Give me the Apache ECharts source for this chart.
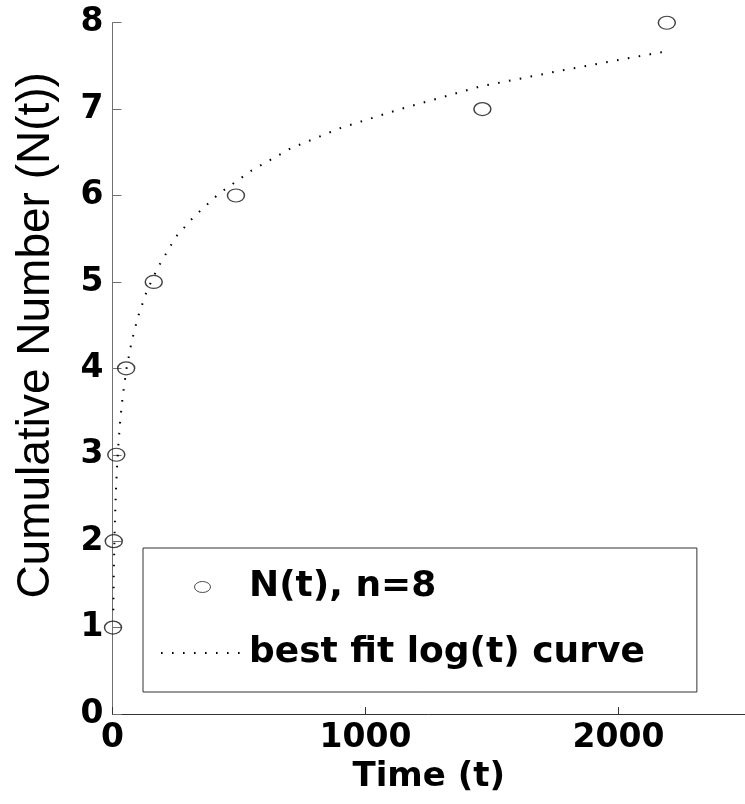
<!DOCTYPE html>
<html><head><meta charset="utf-8">
<script src="https://cdn.jsdelivr.net/npm/echarts@6/dist/echarts.min.js"></script>
<style>html,body{margin:0;padding:0;background:#fff}#c{width:745px;height:804px}</style>
</head><body><div id="c"></div>
<script>
// observed data: time of each event and cumulative number
const eventTimes = [2, 5, 15, 54, 163, 488, 1462, 2191];
const cumulativeCounts = [1, 2, 3, 4, 5, 6, 7, 8];
// best fit log(t) curve
const fitTimes  = [3.3, 4, 5, 6, 8, 10, 13, 17, 22, 30, 40, 55, 75, 100, 135, 180, 250, 320, 420, 550, 707, 900, 1126, 1450, 1780, 2191];
const fitValues = [1.2, 1.4, 1.6, 1.78, 2.06, 2.28, 2.54, 2.81, 3.07, 3.38, 3.67, 3.99, 4.3, 4.59, 4.89, 5.17, 5.52, 5.75, 6.02, 6.29, 6.55, 6.78, 6.99, 7.26, 7.45, 7.67];
const xTickValues = [0, 1000, 2000];
const yTickValues = [0, 1, 2, 3, 4, 5, 6, 7, 8];
const seriesNames = ['N(t), n=8', 'best fit log(t) curve'];

const chart = echarts.init(document.getElementById('c'), null, {renderer: 'canvas'});
const tickFont = {fontFamily: 'DejaVu Sans', fontWeight: 'bold', fontSize: 33, color: '#000'};
const fitLineStyle = {color: '#000', width: 2, type: [1.6, 9.4]};
chart.setOption({
  animation: false,
  backgroundColor: '#fff',
  grid: {left: 112.5, right: -5.5, top: 22.7, bottom: 90, containLabel: false},
  xAxis: {
    type: 'value', min: 0, max: 2500, interval: 1000,
    name: 'Time (t)', nameLocation: 'middle', nameGap: 44,
    nameTextStyle: {fontFamily: 'DejaVu Sans', fontWeight: 'bold', fontSize: 34, color: '#000'},
    axisLine: {show: true, lineStyle: {color: '#333', width: 1}},
    axisTick: {show: true, inside: true, length: 7, lineStyle: {color: '#333'}},
    axisLabel: Object.assign({margin: 8, showMaxLabel: false,
      formatter: v => xTickValues.includes(v) ? String(v) : ''}, tickFont),
    splitLine: {show: false}
  },
  yAxis: {
    type: 'value', min: 0, max: 8, interval: 1,
    name: 'Cumulative Number (N(t))', nameLocation: 'middle', nameGap: 53,
    nameTextStyle: {fontFamily: 'Liberation Sans', fontWeight: 'normal', fontSize: 46, color: '#000', padding: [0, 0, 0, 66]},
    axisLine: {show: true, lineStyle: {color: '#707070', width: 1}},
    axisTick: {show: true, inside: true, length: 9, lineStyle: {color: '#707070'}},
    axisLabel: Object.assign({margin: 9,
      formatter: v => yTickValues.includes(v) ? String(v) : ''}, tickFont),
    splitLine: {show: false}
  },
  legend: {
    orient: 'vertical', left: 143, top: 548,
    padding: [21, 52, 21, 17], itemGap: 30,
    itemWidth: 83, itemHeight: 11,
    backgroundColor: '#fff', borderColor: '#333', borderWidth: 1, borderRadius: 0,
    textStyle: {fontFamily: 'DejaVu Sans', fontWeight: 'bold', fontSize: 36, color: '#000'},
    selectedMode: false,
    data: [
      {name: seriesNames[0], icon: 'path://M16,5.5A8,5.5,0,1,1,0,5.5A8,5.5,0,1,1,16,5.5Z',
       itemStyle: {color: 'rgba(0,0,0,0)', borderColor: '#222', borderWidth: 1}},
      {name: seriesNames[1],
       itemStyle: {color: 'rgba(0,0,0,0)', borderColor: 'rgba(0,0,0,0)', borderWidth: 0},
       lineStyle: fitLineStyle}
    ]
  },
  series: [
    {
      name: seriesNames[1], type: 'line',
      data: fitTimes.map((t, i) => [t, fitValues[i]]),
      symbol: 'none', smooth: false,
      itemStyle: {color: 'rgba(0,0,0,0)'},
      lineStyle: fitLineStyle,
      silent: true, z: 2
    },
    {
      name: seriesNames[0], type: 'scatter',
      data: eventTimes.map((t, i) => [t, cumulativeCounts[i]]),
      symbol: 'circle', symbolSize: [17, 13],
      itemStyle: {color: 'rgba(0,0,0,0)', borderColor: '#111', borderWidth: 1.3},
      silent: true, z: 3
    }
  ]
});
</script></body></html>
